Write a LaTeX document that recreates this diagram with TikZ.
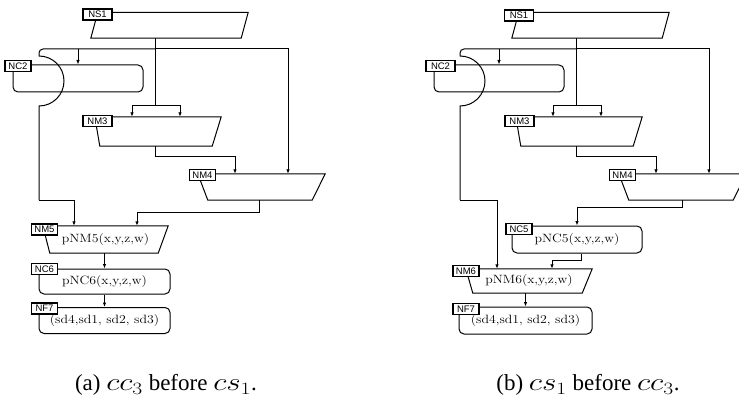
\documentclass[tikz,border=0pt]{standalone}
\usepackage{fontspec}
\usepackage{graphicx}
\newfontfamily\lblfont{Liberation Sans}
\newfontfamily\capfont{Liberation Serif}
\usetikzlibrary{arrows.meta}
% outline of a four-sided block: node, insets top left / top right / bottom right / bottom left
\newcommand{\quadbox}[5]{%
  \draw[outl] ([xshift=#2]#1.north west) -- ([xshift=-#3]#1.north east)
    -- ([xshift=-#4]#1.south east) -- ([xshift=#5]#1.south west) -- cycle;}
\newcommand{\wtxt}[1]{\scalebox{1.15}[1]{#1}}
\newcommand{\wmath}[1]{\scalebox{1.25}[1]{$#1$}}

\begin{document}
\begin{tikzpicture}[x=1pt, y=-1pt,
  lbl/.style={draw, line width=1.2pt, fill=white, inner sep=0pt,
              font=\lblfont\fontsize{9.5}{10}\selectfont,
              minimum width=26pt, minimum height=11pt},
  rbox/.style 2 args={draw, line width=1pt, rounded corners=5pt, inner sep=0pt,
                      minimum width=#1, minimum height=#2,
                      font=\fontsize{12}{14}\selectfont},
  frame/.style 2 args={inner sep=0pt, minimum width=#1, minimum height=#2,
                       font=\fontsize{12}{14}\selectfont},
  outl/.style={line width=1pt},
  wire/.style={line width=1pt},
  conn/.style={line width=1pt, -{Latex[length=4.5pt,width=3.5pt]}},
  captxt/.style={font=\capfont\fontsize{23}{27}\selectfont, inner sep=0pt}
]
\useasboundingbox (0,0) rectangle (739,401);
\clip (0,0) rectangle (739,401);

% (a) cc3 before cs1
\node[frame={157pt}{25.5pt}] (ns1a) at (169.5,25.25) {};
\quadbox{ns1a}{7pt}{0pt}{7pt}{0pt}
\node[rbox={130pt}{27pt}] (nc2a) at (78,78.5) {};
\node[frame={126pt}{29pt}] (nm3a) at (158,131.5) {};
\quadbox{nm3a}{0pt}{0pt}{9pt}{5pt}
\node[frame={127pt}{26pt}] (nm4a) at (261.5,187) {};
\quadbox{nm4a}{0pt}{0pt}{13pt}{10pt}
\node[frame={125pt}{27pt}] (nm5a) at (105.5,239.5) {\wtxt{pNM5(x,y,z,w)}};
\quadbox{nm5a}{0pt}{0pt}{10pt}{7pt}
\node[rbox={131pt}{25pt}] (nc6a) at (104.5,281.5) {\wtxt{pNC6(x,y,z,w)}};
\node[rbox={131pt}{26pt}] (nf7a) at (104.5,320.5) {\wtxt{(sd4,sd1, sd2, sd3)}};

\coordinate (busa) at (155,49);
\coordinate (forka) at (155,106);
\draw[wire] ([xshift=-14.5pt]ns1a.south) -- (forka);
\draw[conn] (busa) -| ([xshift=26.5pt]nm4a.north);
\draw[conn] (nc2a.north |- busa) -- (nc2a.north);
\draw[wire] (busa) -- (43,49) to[out=180,in=90] (39,53) -- (39,56)
  arc[start angle=90, end angle=-90, radius=25pt] -- (39,200) coordinate (elba);
\draw[conn] (elba) -| ([xshift=-31.5pt]nm5a.north);
\draw[conn] (forka) -| ([xshift=-26pt]nm3a.north);
\draw[conn] (forka) -| ([xshift=22pt]nm3a.north);
\draw[conn] ([xshift=-3pt]nm3a.south) -- ++(0,10) -| ([xshift=-26.5pt]nm4a.north);
\draw[conn] ([xshift=-2.5pt]nm4a.south) -- ++(0,12) -| ([xshift=31.5pt]nm5a.north);
\draw[conn] (nc6a.north |- nm5a.south) -- (nc6a.north);
\draw[conn] (nc6a.south) -- (nf7a.north);

\node[lbl, minimum width=29pt] (ns1al) at (97.5,14.5) {NS1};
\node[lbl] (nc2al) at (18,66) {NC2};
\node[lbl, minimum width=29pt] (nm3al) at (97.5,121) {NM3};
\node[lbl] (nm4al) at (202.5,175) {NM4};
\node[lbl] (nm5al) at (44.5,229.5) {NM5};
\node[lbl] (nc6al) at (44.5,269) {NC6};
\node[lbl] (nf7al) at (44.5,308.5) {NF7};

\node[captxt] (capa) at (166,385) {(a) \wmath{cc_3} before \wmath{cs_1}.};

% (b) cs1 before cc3
\node[frame={157pt}{25.5pt}] (ns1b) at (590.5,25.25) {};
\quadbox{ns1b}{7pt}{0pt}{7pt}{0pt}
\node[rbox={130pt}{27pt}] (nc2b) at (499,78.5) {};
\node[frame={126pt}{29pt}] (nm3b) at (579,131.5) {};
\quadbox{nm3b}{0pt}{0pt}{9pt}{5pt}
\node[frame={127pt}{26pt}] (nm4b) at (682.5,187) {};
\quadbox{nm4b}{0pt}{0pt}{13pt}{10pt}
\node[rbox={130pt}{27pt}] (nc5b) at (577,239.5) {\wtxt{pNC5(x,y,z,w)}};
\node[frame={126pt}{24pt}] (nm6b) at (529,281) {\wtxt{pNM6(x,y,z,w)}};
\quadbox{nm6b}{0pt}{0pt}{10pt}{7pt}
\node[rbox={133pt}{27pt}] (nf7b) at (525.5,320.5) {\wtxt{(sd4,sd1, sd2, sd3)}};

\coordinate (busb) at (576,49);
\coordinate (forkb) at (576,106);
\draw[wire] ([xshift=-14.5pt]ns1b.south) -- (forkb);
\draw[conn] (busb) -| ([xshift=26.5pt]nm4b.north);
\draw[conn] (nc2b.north |- busb) -- (nc2b.north);
\draw[wire] (busb) -- (464,49) to[out=180,in=90] (460,53) -- (460,56)
  arc[start angle=90, end angle=-90, radius=25pt] -- (460,200) coordinate (elbb);
\draw[conn] (elbb) -| ([xshift=-32pt]nm6b.north);
\draw[conn] (forkb) -| ([xshift=-26pt]nm3b.north);
\draw[conn] (forkb) -| ([xshift=22pt]nm3b.north);
\draw[conn] ([xshift=-3pt]nm3b.south) -- ++(0,10) -| ([xshift=-26.5pt]nm4b.north);
\draw[conn] (nm4b.south) -- ++(0,7) -| (nc5b.north);
\draw[conn] ([xshift=4pt]nc5b.south) -- ++(0,7) -| ([xshift=23pt]nm6b.north);
\draw[conn] (nf7b.north |- nm6b.south) -- (nf7b.north);

\node[lbl, minimum width=29pt] (ns1bl) at (519,15.5) {NS1};
\node[lbl, minimum width=29pt] (nc2bl) at (440.5,66) {NC2};
\node[lbl, minimum width=29pt] (nm3bl) at (519.5,121) {NM3};
\node[lbl] (nm4bl) at (622.5,175) {NM4};
\node[lbl] (nc5bl) at (519,229) {NC5};
\node[lbl] (nm6bl) at (466,271) {NM6};
\node[lbl] (nf7bl) at (466,309) {NF7};

\node[captxt] (capb) at (588,385) {(b) \wmath{cs_1} before \wmath{cc_3}.};
\end{tikzpicture}
\end{document}
